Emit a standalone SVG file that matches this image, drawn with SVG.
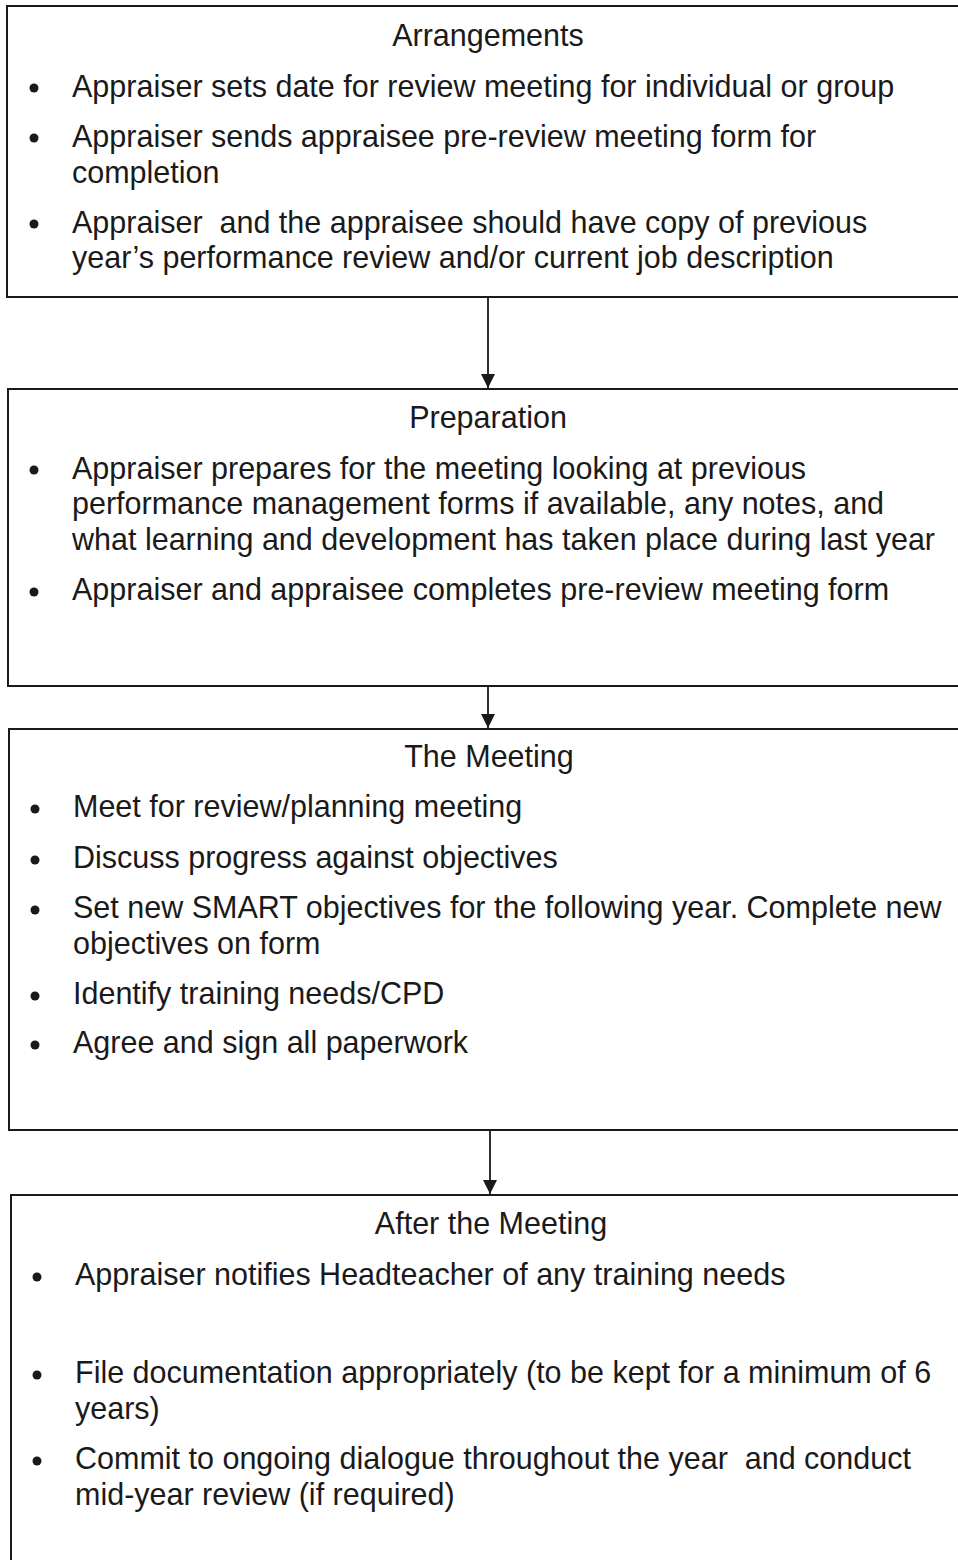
<svg xmlns="http://www.w3.org/2000/svg" width="958" height="1560" viewBox="0 0 958 1560">
<style>
.box{fill:none;stroke:#1a1a1a;stroke-width:2}
.t{font-family:"Liberation Sans",Arial,sans-serif;font-size:30.5px;fill:#1a1a1a}
.h{text-anchor:middle}
.b{fill:#1a1a1a}
.c{stroke:#1a1a1a;stroke-width:1.8;fill:none}
</style>
<defs>
<marker id="ah" viewBox="0 0 10 10" refX="10" refY="5" markerWidth="14" markerHeight="14" markerUnits="userSpaceOnUse" orient="auto">
<path d="M0,0 L10,5 L0,10 Z" fill="#1a1a1a"/>
</marker>
</defs>
<rect width="958" height="1560" fill="#ffffff"/>
<g id="connectors">
<line class="c" x1="488" y1="297" x2="488" y2="388" marker-end="url(#ah)"/>
<line class="c" x1="488" y1="686" x2="488" y2="728" marker-end="url(#ah)"/>
<line class="c" x1="490" y1="1130" x2="490" y2="1194" marker-end="url(#ah)"/>
</g>
<g id="arrangements">
<path class="box" d="M965,6 H7 V297 H965"/>
<text class="t h" x="488" y="46">Arrangements</text>
<circle class="b" cx="34" cy="88" r="4.5"/>
<text class="t" x="72" y="97">Appraiser sets date for review meeting for individual or group</text>
<circle class="b" cx="34" cy="138" r="4.5"/>
<text class="t" x="72" y="147">Appraiser sends appraisee pre-review meeting form for</text>
<text class="t" x="72" y="183">completion</text>
<circle class="b" cx="34" cy="224" r="4.5"/>
<text class="t" x="72" y="233" xml:space="preserve">Appraiser  and the appraisee should have copy of previous</text>
<text class="t" x="72" y="268">year’s performance review and/or current job description</text>
</g>
<g id="preparation">
<path class="box" d="M965,389 H8 V686 H965"/>
<text class="t h" x="488" y="428">Preparation</text>
<circle class="b" cx="34" cy="470" r="4.5"/>
<text class="t" x="72" y="479">Appraiser prepares for the meeting looking at previous</text>
<text class="t" x="72" y="514">performance management forms if available, any notes, and</text>
<text class="t" x="72" y="550">what learning and development has taken place during last year</text>
<circle class="b" cx="34" cy="592" r="4.5"/>
<text class="t" x="72" y="600">Appraiser and appraisee completes pre-review meeting form</text>
</g>
<g id="the-meeting">
<path class="box" d="M965,729 H9 V1130 H965"/>
<text class="t h" x="489" y="767">The Meeting</text>
<circle class="b" cx="35" cy="809" r="4.5"/>
<text class="t" x="73" y="817">Meet for review/planning meeting</text>
<circle class="b" cx="35" cy="860" r="4.5"/>
<text class="t" x="73" y="868">Discuss progress against objectives</text>
<circle class="b" cx="35" cy="910" r="4.5"/>
<text class="t" x="73" y="918">Set new SMART objectives for the following year. Complete new</text>
<text class="t" x="73" y="954">objectives on form</text>
<circle class="b" cx="35" cy="996" r="4.5"/>
<text class="t" x="73" y="1004">Identify training needs/CPD</text>
<circle class="b" cx="35" cy="1045" r="4.5"/>
<text class="t" x="73" y="1053">Agree and sign all paperwork</text>
</g>
<g id="after-the-meeting">
<path class="box" d="M965,1195 H11 V1570"/>
<text class="t h" x="491" y="1234">After the Meeting</text>
<circle class="b" cx="37" cy="1277" r="4.5"/>
<text class="t" x="75" y="1285">Appraiser notifies Headteacher of any training needs</text>
<circle class="b" cx="37" cy="1375" r="4.5"/>
<text class="t" x="75" y="1383">File documentation appropriately (to be kept for a minimum of 6</text>
<text class="t" x="75" y="1419">years)</text>
<circle class="b" cx="37" cy="1461" r="4.5"/>
<text class="t" x="75" y="1469" xml:space="preserve">Commit to ongoing dialogue throughout the year  and conduct</text>
<text class="t" x="75" y="1505">mid-year review (if required)</text>
</g>
</svg>
